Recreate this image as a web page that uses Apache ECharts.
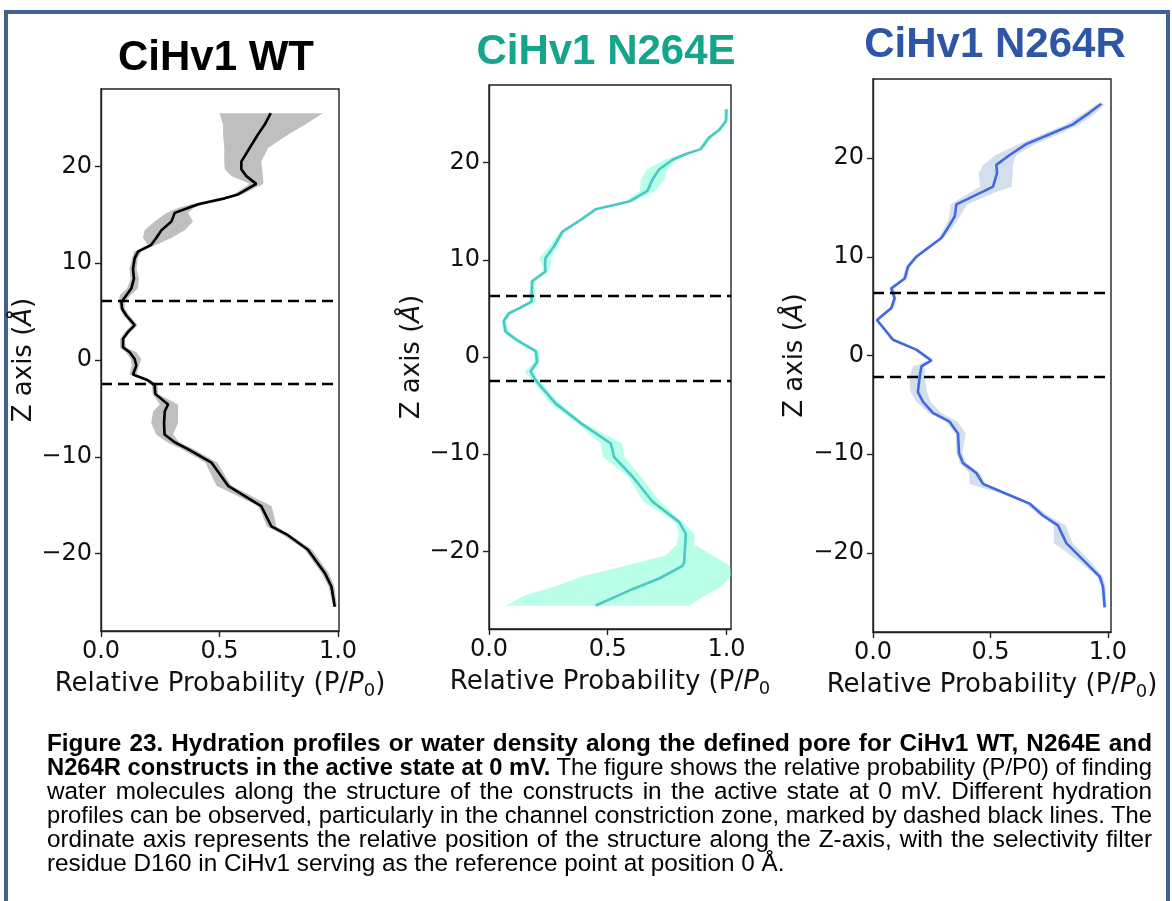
<!DOCTYPE html>
<html>
<head>
<meta charset="utf-8">
<script src="https://cdn.jsdelivr.net/npm/echarts@6/dist/echarts.min.js"></script>
<style>
html, body { margin: 0; padding: 0; background: #fff; }
#frame { position: absolute; left: 4px; top: 10px; width: 1158px; height: 1000px;
  border: 4px solid #41618f; border-bottom: none; }
#main { position: absolute; left: 0; top: 0; width: 1172px; height: 901px; }
#caption { position: absolute; left: 47px; top: 731px; width: 1105px; color: #000;
  font-family: 'Liberation Sans', Arial, sans-serif; font-size: 24.3px; line-height: 24px; }
#caption div { text-align: justify; text-align-last: justify; white-space: nowrap; transform-origin: 0 50%; }
#caption div.last { text-align-last: left; }
</style>
</head>
<body>
<div id="frame"></div>
<div id="main"></div>
<div id="caption">
  <div><b>Figure 23. Hydration profiles or water density along the defined pore for CiHv1 WT, N264E and</b></div>
  <div><b>N264R constructs in the active state at 0 mV.</b> The figure shows the relative probability (P/P0) of finding</div>
  <div>water molecules along the structure of the constructs in the active state at 0 mV. Different hydration</div>
  <div>profiles can be observed, particularly in the channel constriction zone, marked by dashed black lines. The</div>
  <div>ordinate axis represents the relative position of the structure along the Z-axis, with the selectivity filter</div>
  <div class="last">residue D160 in CiHv1 serving as the reference point at position 0 Å.</div>
</div>
<script>
// tick values
var zTicks = [-20, -10, 0, 10, 20];
var pTicks = [0, 0.5, 1.0];

// CiHv1 WT
var wtZ = [25.5, 24.3, 23.3, 21.9, 20.5, 19.7, 19.0, 18.2, 17.1, 16.7, 16.1, 15.7, 15.2, 14.3, 13.4, 12.6, 11.9, 11.2, 10.5, 9.4,
  8.4, 7.4, 6.7, 6.0, 5.3, 4.6, 3.6, 2.9, 2.2, 1.3, 0.8, 0.1, -0.6, -1.5, -2.1, -2.6, -3.5, -4.6, -5.3, -6.5,
  -7.7, -8.5, -9.2, -10.6, -13.0, -15.1, -17.2, -18.1, -19.6, -22.0, -23.4, -25.5];
var wtMean = [0.716, 0.69, 0.662, 0.627, 0.592, 0.592, 0.613, 0.655, 0.578, 0.522, 0.41, 0.367, 0.311, 0.297, 0.255, 0.233, 0.212, 0.156, 0.142, 0.135,
  0.139, 0.128, 0.107, 0.086, 0.089, 0.107, 0.142, 0.114, 0.093, 0.093, 0.121, 0.142, 0.149, 0.135, 0.198, 0.226, 0.229, 0.283, 0.269, 0.266,
  0.268, 0.311, 0.367, 0.466, 0.536, 0.676, 0.719, 0.789, 0.873, 0.944, 0.972, 0.986];
var wtLow = [0.50, 0.515, 0.515, 0.52, 0.52, 0.522, 0.55, 0.627, 0.56, 0.50, 0.38, 0.325, 0.276, 0.226, 0.184, 0.177, 0.198, 0.14, 0.13, 0.12,
  0.125, 0.11, 0.079, 0.075, 0.08, 0.095, 0.13, 0.10, 0.08, 0.08, 0.105, 0.125, 0.13, 0.12, 0.185, 0.215, 0.218, 0.248, 0.22, 0.212,
  0.233, 0.28, 0.34, 0.44, 0.487, 0.665, 0.70, 0.77, 0.86, 0.93, 0.96, 0.98];
var wtHigh = [0.936, 0.86, 0.79, 0.705, 0.676, 0.68, 0.683, 0.685, 0.595, 0.54, 0.43, 0.39, 0.367, 0.388, 0.353, 0.297, 0.233, 0.17, 0.155, 0.15,
  0.16, 0.155, 0.125, 0.10, 0.10, 0.12, 0.155, 0.125, 0.10, 0.105, 0.15, 0.17, 0.16, 0.15, 0.21, 0.24, 0.24, 0.325, 0.325, 0.325,
  0.304, 0.33, 0.39, 0.49, 0.55, 0.72, 0.74, 0.80, 0.89, 0.96, 0.985, 0.995];
var wtCut = [6.1, -2.5];

// CiHv1 N264E
var eZ = [25.5, 24.3, 23.4, 22.6, 21.4, 20.9, 20.3, 19.3, 18.3, 17.1, 16.0, 15.2, 14.0, 12.9, 11.4, 10.2, 9.5, 8.8, 7.8, 5.7,
  5.0, 4.5, 3.7, 2.6, 1.6, 0.6, -0.5, -1.5, -2.4, -3.6, -4.8, -6.8, -8.9, -10.3, -12.3, -14.9, -17.0, -18.2, -21.1, -21.5,
  -22.8, -23.9, -25.6];
var eMean = [1.0, 0.998, 0.97, 0.927, 0.892, 0.829, 0.773, 0.716, 0.689, 0.667, 0.59, 0.449, 0.379, 0.309, 0.274, 0.238, 0.236, 0.238, 0.182, 0.179,
  0.126, 0.084, 0.062, 0.07, 0.126, 0.197, 0.203, 0.175, 0.197, 0.238, 0.281, 0.386, 0.513, 0.527, 0.604, 0.689, 0.801, 0.829, 0.822, 0.815,
  0.717, 0.604, 0.449];
var eBandZ = [25.5, 24.3, 23.4, 22.6, 21.4, 20.9, 20.3, 19.3, 18.3, 17.1, 16.0, 15.2, 14.0, 12.9, 11.4, 10.2, 9.5, 8.8, 7.8, 5.7,
  5.0, 4.5, 3.7, 2.6, 1.6, 0.6, -0.5, -1.5, -2.4, -3.6, -4.8, -6.8, -8.9, -10.3, -12.3, -14.9, -17.0, -18.2, -19.3, -20.4,
  -21.5, -22.5, -23.7, -24.5, -25.6];
var eLow = [0.99, 0.99, 0.96, 0.915, 0.88, 0.815, 0.74, 0.665, 0.64, 0.635, 0.57, 0.44, 0.37, 0.30, 0.255, 0.21, 0.225, 0.225, 0.17, 0.17,
  0.115, 0.075, 0.052, 0.06, 0.11, 0.185, 0.19, 0.15, 0.18, 0.22, 0.26, 0.37, 0.47, 0.48, 0.585, 0.65, 0.785, 0.80, 0.79, 0.745,
  0.576, 0.407, 0.267, 0.154, 0.07];
var eHigh = [1.01, 1.005, 0.98, 0.94, 0.90, 0.84, 0.79, 0.75, 0.74, 0.70, 0.61, 0.46, 0.39, 0.32, 0.29, 0.26, 0.262, 0.25, 0.19, 0.20,
  0.14, 0.095, 0.072, 0.085, 0.14, 0.21, 0.215, 0.185, 0.21, 0.255, 0.30, 0.40, 0.56, 0.57, 0.64, 0.72, 0.815, 0.865, 0.865, 0.94,
  1.015, 1.02, 0.975, 0.913, 0.843];
var eCut = [6.3, -2.4];

// CiHv1 N264R
var rZ = [25.5, 24.6, 23.4, 22.4, 21.4, 20.3, 19.3, 18.5, 17.1, 16.6, 15.3, 14.1, 13.2, 11.9, 10.0, 9.0, 7.8, 6.8, 5.8, 4.8,
  3.6, 1.6, 0.6, -0.5, -1.1, -2.1, -3.7, -4.7, -5.8, -6.7, -7.9, -9.9, -10.9, -11.9, -13.0, -14.0, -15.0, -16.2, -17.2, -19.0,
  -20.7, -22.4, -23.4, -25.5];
var rMean = [0.972, 0.922, 0.851, 0.752, 0.652, 0.582, 0.525, 0.528, 0.511, 0.468, 0.355, 0.348, 0.326, 0.291, 0.184, 0.149, 0.135, 0.078, 0.092, 0.078,
  0.017, 0.085, 0.184, 0.248, 0.206, 0.199, 0.191, 0.213, 0.255, 0.326, 0.362, 0.366, 0.383, 0.44, 0.468, 0.567, 0.667, 0.723, 0.787, 0.823,
  0.894, 0.965, 0.979, 0.986];
var rLow = [0.955, 0.90, 0.82, 0.72, 0.62, 0.52, 0.47, 0.45, 0.455, 0.42, 0.33, 0.325, 0.31, 0.28, 0.175, 0.14, 0.125, 0.07, 0.085, 0.07,
  0.01, 0.075, 0.175, 0.24, 0.17, 0.155, 0.16, 0.185, 0.235, 0.31, 0.35, 0.355, 0.37, 0.41, 0.41, 0.55, 0.65, 0.71, 0.77, 0.77,
  0.87, 0.955, 0.97, 0.98];
var rHigh = [0.99, 0.95, 0.88, 0.79, 0.69, 0.61, 0.595, 0.595, 0.59, 0.53, 0.40, 0.37, 0.345, 0.30, 0.195, 0.16, 0.145, 0.09, 0.10, 0.09,
  0.025, 0.095, 0.195, 0.26, 0.22, 0.22, 0.23, 0.245, 0.29, 0.36, 0.395, 0.38, 0.40, 0.455, 0.48, 0.58, 0.68, 0.745, 0.82, 0.85,
  0.92, 0.98, 0.99, 0.995];
var rCut = [6.4, -2.2];

// shrink any caption line that is wider than the column
document.querySelectorAll('#caption div').forEach(function (d) {
  var s = document.createElement('span');
  s.innerHTML = d.innerHTML;
  s.style.whiteSpace = 'nowrap';
  s.style.visibility = 'hidden';
  s.style.position = 'absolute';
  d.parentNode.appendChild(s);
  var w = s.getBoundingClientRect().width;
  s.remove();
  if (w > 1105) {
    d.style.width = w + 'px';
    d.style.transform = 'scaleX(' + (1105 / w) + ')';
  }
});

var tickFont = 'DejaVu Sans';
var grids = [
  { left: 101, top: 89, width: 238, height: 542, xMax: 1.004, nameGapY: 55 },
  { left: 489, top: 85, width: 242, height: 544, xMax: 1.019, nameGapY: 61 },
  { left: 873, top: 79, width: 238, height: 553, xMax: 1.013, nameGapY: 62 }
];
var xNames = [
  '{a|Relative Probability (P/}{b|P}{c|0}{a|)}',
  '{a|Relative Probability (P/}{b|P}{c|0}',
  '{a|Relative Probability (P/}{b|P}{c|0}{a|)}'
];

var nameRich = {
  a: { fontFamily: tickFont, fontSize: 26, color: '#111', lineHeight: 32 },
  b: { fontFamily: tickFont, fontSize: 26, color: '#111', fontStyle: 'italic', lineHeight: 32 },
  c: { fontFamily: tickFont, fontSize: 18, color: '#111', lineHeight: 32, verticalAlign: 'bottom', padding: [12, 0, 0, 0] }
};

function bandSeries(idx, zs, lo, hi, color) {
  return {
    type: 'custom', xAxisIndex: idx, yAxisIndex: idx, silent: true, z: 1,
    data: zs.map(function (z, i) { return [lo[i], hi[i], z]; }),
    encode: { x: [0, 1], y: 2 },
    renderItem: function (params, api) {
      if (params.dataIndex !== 0) return null;
      var pts = [];
      for (var i = 0; i < zs.length; i++) pts.push(api.coord([lo[i], zs[i]]));
      for (var j = zs.length - 1; j >= 0; j--) pts.push(api.coord([hi[j], zs[j]]));
      return { type: 'polygon', shape: { points: pts }, style: { fill: color } };
    }
  };
}

function lineSeries(idx, zs, mean, color, cut) {
  return {
    type: 'line', xAxisIndex: idx, yAxisIndex: idx, z: 3,
    data: zs.map(function (z, i) { return [mean[i], z]; }),
    showSymbol: false, symbol: 'none',
    lineStyle: { color: color, width: 2.6 },
    markLine: {
      silent: true, symbol: 'none', label: { show: false },
      lineStyle: { color: '#000', width: 2.3, type: [11, 6] },
      data: cut.map(function (v) { return { yAxis: v }; })
    }
  };
}

var chart = echarts.init(document.getElementById('main'), null, { renderer: 'canvas' });
chart.setOption({
  animation: false,
  grid: grids.map(function (g) {
    return { left: g.left, top: g.top, width: g.width, height: g.height, show: true,
      borderColor: '#222', borderWidth: 1.4, backgroundColor: 'transparent' };
  }),
  xAxis: grids.map(function (g, i) {
    return {
      type: 'value', gridIndex: i, min: 0, max: g.xMax,
      name: xNames[i], nameLocation: 'middle', nameGap: 37,
      nameTextStyle: { rich: nameRich },
      axisLine: { show: true, onZero: false, lineStyle: { color: '#222', width: 1.4 } },
      axisTick: { show: true, length: 6, lineStyle: { color: '#222', width: 1.4 }, customValues: pTicks },
      axisLabel: { customValues: pTicks, fontFamily: tickFont, fontSize: 24, color: '#111', margin: 9,
        formatter: function (v) { return v.toFixed(1); } },
      splitLine: { show: false }
    };
  }),
  yAxis: grids.map(function (g, i) {
    return {
      type: 'value', gridIndex: i, min: -28, max: 28,
      name: '{a|Z axis (}{b|Å}{a|)}', nameLocation: 'middle', nameGap: g.nameGapY, nameRotate: 90,
      nameTextStyle: { rich: nameRich },
      axisLine: { show: true, onZero: false, lineStyle: { color: '#222', width: 1.4 } },
      axisTick: { show: true, length: 6, lineStyle: { color: '#222', width: 1.4 }, customValues: zTicks },
      axisLabel: { customValues: zTicks, fontFamily: tickFont, fontSize: 24, color: '#111', margin: 9,
        formatter: function (v) { return String(v).replace('-', '\u2212'); } },
      splitLine: { show: false }
    };
  }),
  graphic: [
    { type: 'text', x: 216, y: 58, style: { text: 'CiHv1 WT', font: 'bold 42px "Liberation Sans", Arial', fill: '#000', align: 'center', verticalAlign: 'middle' } },
    { type: 'text', x: 606, y: 52, style: { text: 'CiHv1 N264E', font: 'bold 42px "Liberation Sans", Arial', fill: '#14a58a', align: 'center', verticalAlign: 'middle' } },
    { type: 'text', x: 995, y: 45, style: { text: 'CiHv1 N264R', font: 'bold 42px "Liberation Sans", Arial', fill: '#2f56a6', align: 'center', verticalAlign: 'middle' } }
  ],
  series: [
    bandSeries(0, wtZ, wtLow, wtHigh, 'rgba(128,128,128,0.5)'),
    lineSeries(0, wtZ, wtMean, '#000', wtCut),
    bandSeries(1, eBandZ, eLow, eHigh, 'rgba(127,255,212,0.55)'),
    lineSeries(1, eZ, eMean, '#48c9c4', eCut),
    bandSeries(2, rZ, rLow, rHigh, 'rgba(176,196,222,0.55)'),
    lineSeries(2, rZ, rMean, '#4169e1', rCut)
  ]
});
</script>
</body>
</html>
